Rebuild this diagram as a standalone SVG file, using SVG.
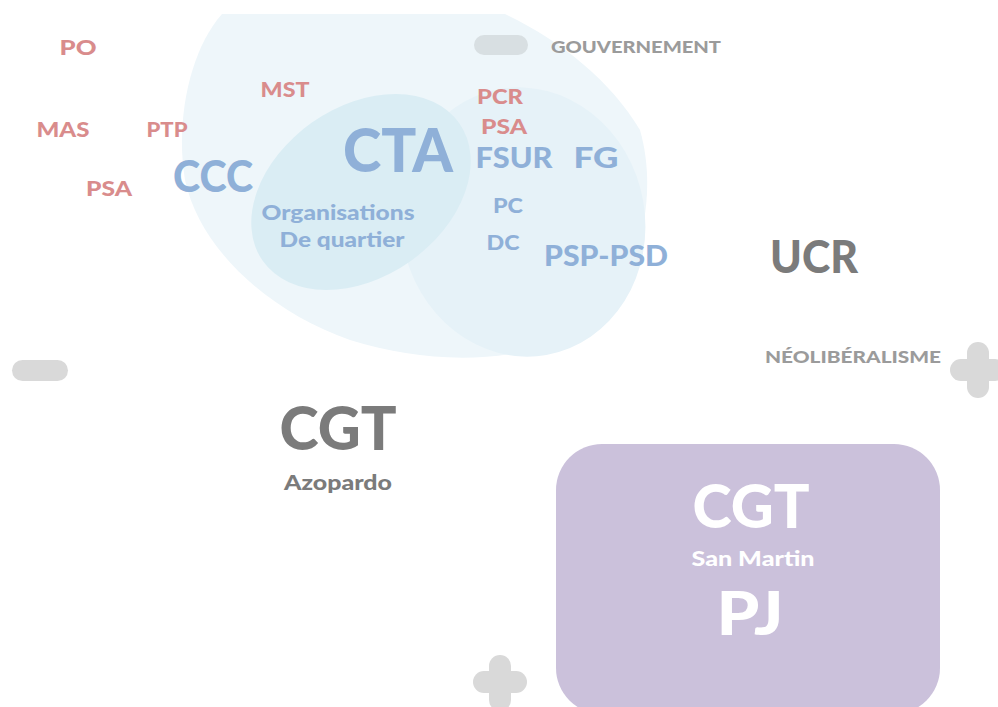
<svg xmlns="http://www.w3.org/2000/svg" width="998" height="707" viewBox="0 0 998 707">
<style>
text{font-family:Lato,"Open Sans","DejaVu Sans",sans-serif;font-weight:900;text-anchor:middle}
.r{fill:#d98c8c}
.b{fill:#8fb0d8}
.g{fill:#7b7b7b}
.lg{fill:#9b9b9b}
.w{fill:#ffffff}
.sym{fill:#d9d9d9}
</style>
<rect width="998" height="707" fill="#ffffff"/>
<g id="blob-main">
<path d="M222,14 L505,14 C560,40 610,80 640,130 C660,200 640,300 560,340 C500,365 420,362 350,340 C270,312 200,250 185,180 C175,120 190,50 222,14 Z" fill="#eef6fa"/>
</g>
<g id="blob-right">
<ellipse cx="523" cy="222" rx="122" ry="135" transform="rotate(-10 523 222)" fill="#e6f2f8"/>
</g>
<g id="blob-quartier">
<ellipse cx="361" cy="192" rx="120" ry="85" transform="rotate(-35 361 192)" fill="#daedf4"/>
</g>
<g id="connectors"></g>
<g id="n-po"><text class="r" x="78" y="55" font-size="21" textLength="37" lengthAdjust="spacingAndGlyphs">PO</text></g>
<g id="n-mas"><text class="r" x="63" y="137" font-size="21" textLength="53" lengthAdjust="spacingAndGlyphs">MAS</text></g>
<g id="n-ptp"><text class="r" x="167" y="137" font-size="21" textLength="41" lengthAdjust="spacingAndGlyphs">PTP</text></g>
<g id="n-psa1"><text class="r" x="109" y="196" font-size="21" textLength="46" lengthAdjust="spacingAndGlyphs">PSA</text></g>
<g id="n-ccc"><text class="b" x="213" y="192" font-size="43" textLength="80" lengthAdjust="spacingAndGlyphs">CCC</text></g>
<g id="n-mst"><text class="r" x="285" y="97" font-size="21" textLength="49" lengthAdjust="spacingAndGlyphs">MST</text></g>
<g id="n-cta"><text class="b" x="398" y="172" font-size="60" textLength="110" lengthAdjust="spacingAndGlyphs">CTA</text></g>
<g id="n-pcr"><text class="r" x="500" y="104" font-size="21" textLength="46" lengthAdjust="spacingAndGlyphs">PCR</text></g>
<g id="n-psa2"><text class="r" x="504" y="134" font-size="21" textLength="46" lengthAdjust="spacingAndGlyphs">PSA</text></g>
<g id="n-fsur"><text class="b" x="514" y="168" font-size="28" textLength="77" lengthAdjust="spacingAndGlyphs">FSUR</text></g>
<g id="n-fg"><text class="b" x="596" y="168" font-size="28" textLength="45" lengthAdjust="spacingAndGlyphs">FG</text></g>
<g id="n-org"><text class="b" x="338" y="220" font-size="20" textLength="153" lengthAdjust="spacingAndGlyphs">Organisations</text><text class="b" x="342" y="247" font-size="20" textLength="125" lengthAdjust="spacingAndGlyphs">De quartier</text></g>
<g id="n-pc"><text class="b" x="508" y="213" font-size="21" textLength="30" lengthAdjust="spacingAndGlyphs">PC</text></g>
<g id="n-dc"><text class="b" x="503" y="250" font-size="21" textLength="33" lengthAdjust="spacingAndGlyphs">DC</text></g>
<g id="n-psp"><text class="b" x="606" y="266" font-size="28" textLength="124" lengthAdjust="spacingAndGlyphs">PSP-PSD</text></g>
<g id="n-gouv"><rect x="474" y="35" width="54" height="20" rx="10" fill="#d8dfe2"/><text class="lg" x="636" y="53" font-size="17" textLength="170" lengthAdjust="spacingAndGlyphs">GOUVERNEMENT</text></g>
<g id="n-ucr"><text class="g" x="814" y="273" font-size="45" textLength="88" lengthAdjust="spacingAndGlyphs">UCR</text></g>
<g id="n-neo"><text class="lg" x="853" y="363" font-size="16" textLength="176" lengthAdjust="spacingAndGlyphs">NÉOLIBÉRALISME</text></g>
<g id="sym-plus-right" class="sym"><rect x="967" y="342" width="22" height="56" rx="11"/><rect x="950" y="359" width="56" height="22" rx="11"/></g>
<g id="sym-minus-left"><rect x="12" y="360" width="56" height="21" rx="10.5" class="sym"/></g>
<g id="n-cgt-azopardo"><text class="g" x="338" y="450" font-size="60" textLength="117" lengthAdjust="spacingAndGlyphs">CGT</text><text class="g" x="338" y="490" font-size="20" textLength="108" lengthAdjust="spacingAndGlyphs">Azopardo</text></g>
<g id="n-cgt-sanmartin"><rect x="556" y="444" width="384" height="270" rx="46" fill="#cbc1db"/><text class="w" x="751" y="528" font-size="60" textLength="117" lengthAdjust="spacingAndGlyphs">CGT</text><text class="w" x="753" y="566" font-size="20" textLength="123" lengthAdjust="spacingAndGlyphs">San Martin</text><text class="w" x="750" y="635" font-size="60" textLength="67" lengthAdjust="spacingAndGlyphs">PJ</text></g>
<g id="sym-plus-bottom" class="sym"><rect x="489" y="655" width="22" height="56" rx="11"/><rect x="473" y="671" width="54" height="22" rx="11"/></g>
</svg>
